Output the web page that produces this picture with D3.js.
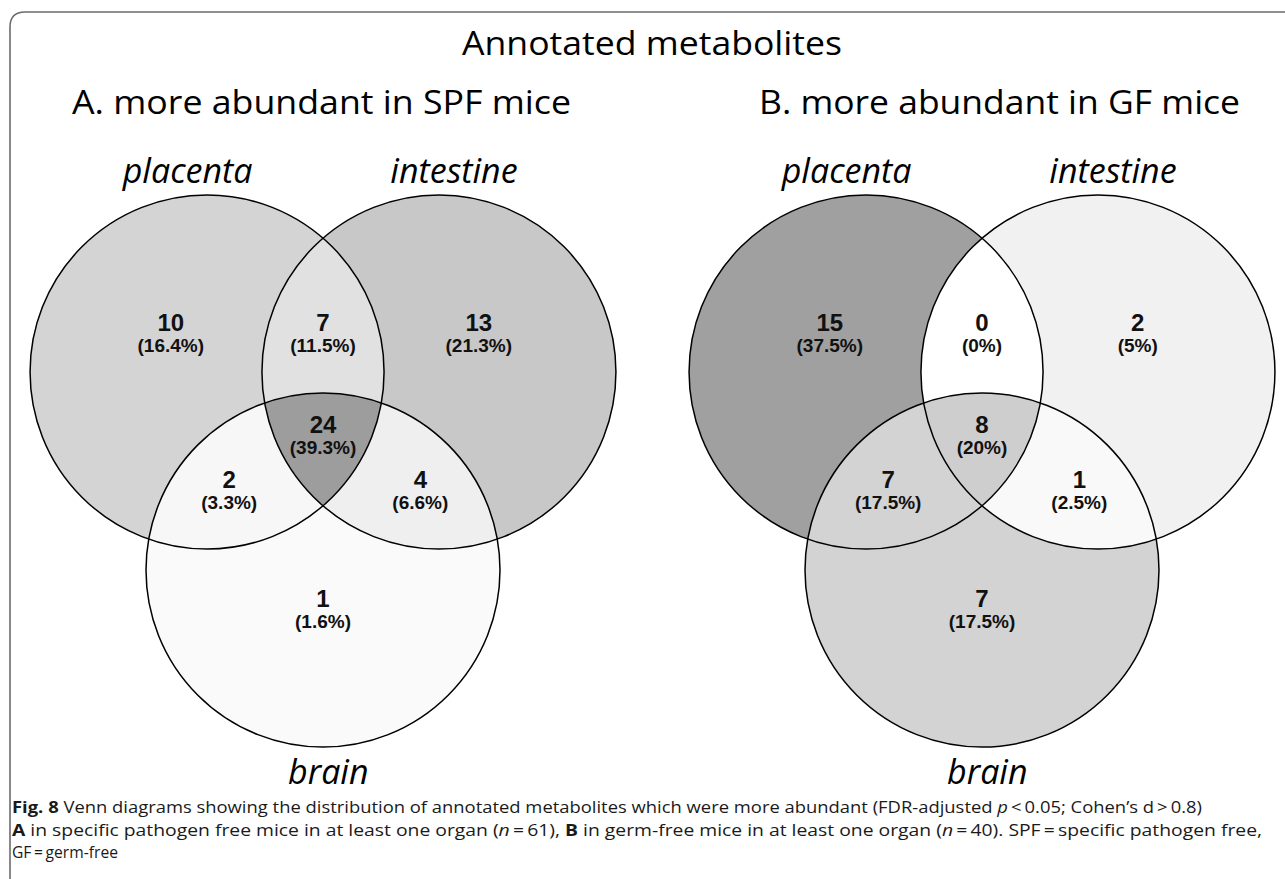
<!DOCTYPE html>
<html>
<head>
<meta charset="utf-8">
<script src="https://cdnjs.cloudflare.com/ajax/libs/d3/7.8.5/d3.min.js"></script>
<style>
  body { margin: 0; background: #fff; }
</style>
</head>
<body>
<div id="venn"></div>
<script>
// data
const setNames = ["placenta", "intestine", "brain"];
// region membership: placenta / intestine / brain
const regionKeys = ["100", "110", "010", "101", "111", "011", "001"];
const countsA = [10, 7, 13, 2, 24, 4, 1];
const percentsA = ["16.4%", "11.5%", "21.3%", "3.3%", "39.3%", "6.6%", "1.6%"];
const countsB = [15, 0, 2, 7, 8, 1, 7];
const percentsB = ["37.5%", "0%", "5%", "17.5%", "20%", "2.5%", "17.5%"];
const panelTitles = ["A. more abundant in SPF mice", "B. more abundant in GF mice"];

(function() {
    const width = 1285, height = 879;
    const container = d3.select("#venn");
    container.selectAll("*").remove();
    const svg = container.append("svg").attr("width", width).attr("height", height);
    const defs = svg.append("defs");

    // grey shades for each region, per panel
    const fills = [
        ["#d4d4d4", "#e1e1e1", "#c8c8c8", "#f7f7f7", "#9d9d9d", "#efefef", "#fafafa"],
        ["#a0a0a0", "#ffffff", "#f1f1f1", "#d3d3d3", "#cecece", "#f9f9f9", "#d3d3d3"]
    ];

    // venn layout in circle-radius units
    const centers = [[-0.655, 0], [0.655, 0], [0, 1.119]];
    const labelPos = [[-0.86, -0.232], [0, -0.232], [0.88, -0.232], [-0.53, 0.655], [0, 0.345], [0.55, 0.655], [0, 1.328]];
    const setLabelPos = [[-0.765, -1.068], [0.74, -1.068], [0.03, 2.33]];
    const r = 177;
    const panels = [
        {ox: 323, oy: 372, counts: countsA, perc: percentsA},
        {ox: 982, oy: 372, counts: countsB, perc: percentsB}
    ];

    // frame
    svg.append("path")
        .attr("d", "M10,879 V27 Q10,12 25,12 H1285")
        .attr("fill", "none").attr("stroke", "#6b6b6b").attr("stroke-width", 1.6);

    svg.append("text")
        .attr("x", 652).attr("y", 55)
        .attr("text-anchor", "middle")
        .attr("textLength", 380).attr("lengthAdjust", "spacingAndGlyphs")
        .style("font-family", "'Open Sans', sans-serif").style("font-size", "33px")
        .text("Annotated metabolites");

    panels.forEach((p, pi) => {
        const x = d3.scaleLinear().domain([-1, 1]).range([p.ox - r, p.ox + r]);
        const y = d3.scaleLinear().domain([-1, 1]).range([p.oy - r, p.oy + r]);

        svg.append("text")
            .attr("x", pi === 0 ? 72 : 759).attr("y", 114)
            .attr("textLength", pi === 0 ? 499 : 481).attr("lengthAdjust", "spacingAndGlyphs")
            .style("font-family", "'Open Sans', sans-serif").style("font-size", "32px")
            .text(panelTitles[pi]);

        // clip path per set
        centers.forEach((c, i) => {
            defs.append("clipPath").attr("id", `clip${pi}${i}`)
                .append("circle").attr("cx", x(c[0])).attr("cy", y(c[1])).attr("r", r);
        });

        regionKeys.forEach((key, k) => {
            const mask = defs.append("mask").attr("id", `mask${pi}${k}`)
                .attr("maskUnits", "userSpaceOnUse")
                .attr("x", 0).attr("y", 0).attr("width", width).attr("height", height);
            mask.append("rect").attr("width", width).attr("height", height).attr("fill", "#fff");
            let g = svg.append("g");
            key.split("").forEach((bit, i) => {
                if (bit === "1") {
                    g = g.append("g").attr("clip-path", `url(#clip${pi}${i})`);
                } else {
                    mask.append("circle").attr("cx", x(centers[i][0])).attr("cy", y(centers[i][1]))
                        .attr("r", r).attr("fill", "#000");
                }
            });
            g.append("rect")
                .attr("x", x(-2)).attr("y", y(-1.2)).attr("width", x(2) - x(-2)).attr("height", y(2.4) - y(-1.2))
                .attr("fill", fills[pi][k])
                .attr("mask", `url(#mask${pi}${k})`);
        });

        svg.append("g").selectAll("circle")
            .data(centers)
            .enter().append("circle")
            .attr("cx", d => x(d[0]))
            .attr("cy", d => y(d[1]))
            .attr("r", r)
            .attr("fill", "none")
            .attr("stroke", "#000")
            .attr("stroke-width", 1.5);

        const labels = svg.append("g")
            .style("font-family", "'Liberation Sans', Arial, sans-serif")
            .style("font-weight", "bold")
            .attr("text-anchor", "middle")
            .attr("fill", "#111");
        regionKeys.forEach((key, k) => {
            labels.append("text")
                .attr("x", x(labelPos[k][0])).attr("y", y(labelPos[k][1]))
                .style("font-size", "24px")
                .text(p.counts[k]);
            labels.append("text")
                .attr("x", x(labelPos[k][0])).attr("y", y(labelPos[k][1]) + 21)
                .style("font-size", "19px")
                .text(`(${p.perc[k]})`);
        });

        svg.append("g").selectAll("text")
            .data(setNames)
            .enter().append("text")
            .attr("x", (d, i) => x(setLabelPos[i][0]))
            .attr("y", (d, i) => y(setLabelPos[i][1]))
            .attr("text-anchor", "middle")
            .style("font-family", "'Open Sans', sans-serif")
            .style("font-style", "italic")
            .style("font-size", "34px")
            .text(d => d);
    });

    // caption
    const cap = svg.append("g")
        .style("font-family", "'Open Sans', sans-serif")
        .style("font-size", "15.5px")
        .attr("fill", "#1a1a1a");
    const l1 = cap.append("text").attr("x", 12).attr("y", 813)
        .attr("textLength", 1190).attr("lengthAdjust", "spacingAndGlyphs");
    l1.append("tspan").style("font-weight", "bold").text("Fig. 8");
    l1.append("tspan").text("  Venn diagrams showing the distribution of annotated metabolites which were more abundant (FDR-adjusted ");
    l1.append("tspan").style("font-style", "italic").text("p");
    l1.append("tspan").text("\u2009<\u20090.05; Cohen\u2019s d\u2009>\u20090.8)");

    const l2 = cap.append("text").attr("x", 12).attr("y", 836)
        .attr("textLength", 1250).attr("lengthAdjust", "spacingAndGlyphs");
    l2.append("tspan").style("font-weight", "bold").text("A");
    l2.append("tspan").text(" in specific pathogen free mice in at least one organ (");
    l2.append("tspan").style("font-style", "italic").text("n");
    l2.append("tspan").text("\u2009=\u200961), ");
    l2.append("tspan").style("font-weight", "bold").text("B");
    l2.append("tspan").text(" in germ-free mice in at least one organ (");
    l2.append("tspan").style("font-style", "italic").text("n");
    l2.append("tspan").text("\u2009=\u200940). SPF\u2009=\u2009specific pathogen free,");

    cap.append("text").attr("x", 12).attr("y", 858)
        .attr("textLength", 106).attr("lengthAdjust", "spacingAndGlyphs")
        .text("GF\u2009=\u2009germ-free");
})();
</script>
</body>
</html>
